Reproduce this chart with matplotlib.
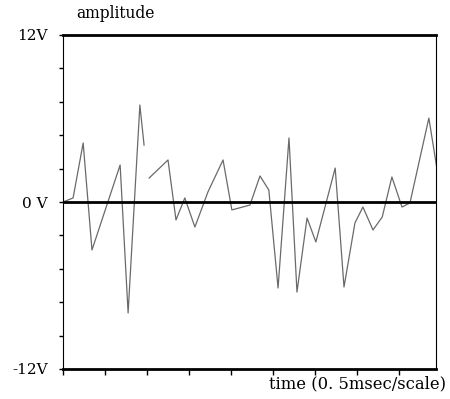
import numpy as np
from matplotlib import pyplot as plt

# signal trace, x in scale units (0.5 msec each), y in volts
t = [0.0, 0.24, 0.48, 0.69, 1.36, 1.55, 1.83, 1.93, np.nan,
     2.05, 2.50, 2.69, 2.90, 3.14, 3.45, 3.81, 4.02, 4.45, 4.69, 4.90,
     5.12, 5.38, 5.57, 5.81, 6.02, 6.48, 6.69, 6.95, 7.14, 7.38, 7.60,
     7.83, 8.07, 8.26, 8.71, 8.90]
v = [0.0, 0.29, 4.24, -3.45, 2.66, -7.97, 6.97, 4.09, np.nan,
     1.72, 3.02, -1.29, 0.29, -1.80, 0.72, 3.02, -0.57, -0.22, 1.87, 0.86,
     -6.18, 4.60, -6.47, -1.15, -2.87, 2.44, -6.11, -1.51, -0.36, -2.01, -1.08,
     1.80, -0.36, -0.07, 6.03, 2.44]

ytick_vals = [-12, -9.6, -7.2, -4.8, -2.4, 0, 2.4, 4.8, 7.2, 9.6, 12]
ytick_labels = ['-12V', '', '', '', '', '0 V', '', '', '', '', '12V']
xtick_vals = [0, 1, 2, 3, 4, 5, 6, 7, 8]

font = 'DejaVu Serif'

fig = plt.figure(figsize=(4.5, 3.99), dpi=100)
ax = fig.add_axes([63/450, 1 - 369/399, (436 - 63)/450, (369 - 35)/399])

ax.axhline(0, color='black', lw=2.0, zorder=3)
ax.plot(t, v, color='#6a6a6a', lw=0.9, zorder=2)

ax.set_xlim(0, 8.88)
ax.set_ylim(-12, 12)
ax.set_xticks(xtick_vals)
ax.set_xticklabels([])
ax.set_yticks(ytick_vals)
ax.set_yticklabels(ytick_labels, fontfamily=font, fontsize=11)
ax.tick_params(axis='x', direction='out', length=4, width=1.0)
ax.tick_params(axis='y', direction='out', length=3, width=1.0, pad=8)

for side in ['top', 'bottom']:
    ax.spines[side].set_linewidth(2.0)
for side in ['left', 'right']:
    ax.spines[side].set_linewidth(0.8)

fig.text(76/450, 1 - 14/399, 'amplitude', fontfamily=font, fontsize=11.2,
         va='center', ha='left')
fig.text(446/450, 1 - 384/399, 'time (0. 5msec/scale)', fontfamily=font,
         fontsize=11.8, va='center', ha='right')

plt.savefig('out.png', dpi=100)
